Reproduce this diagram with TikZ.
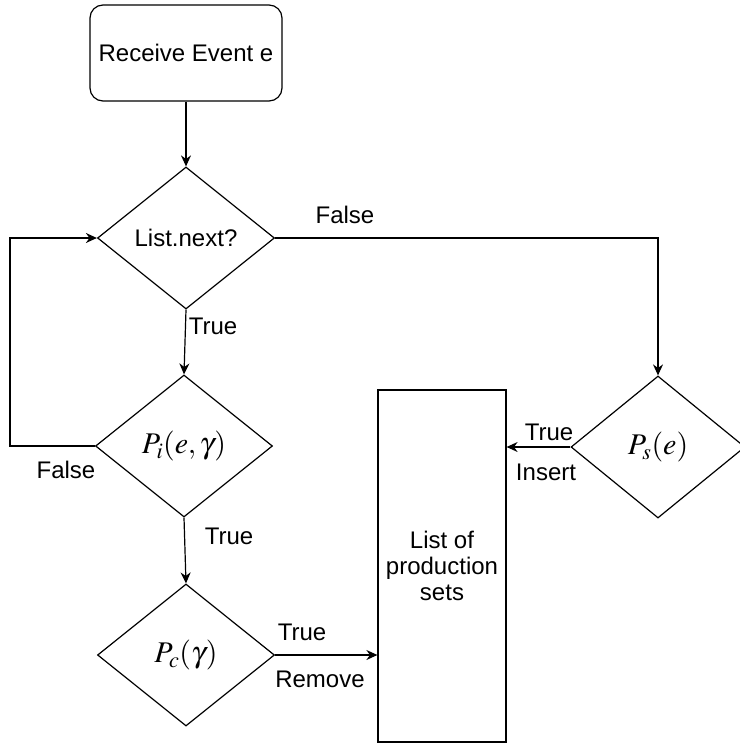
\documentclass[tikz,border=0pt]{standalone}
\usepackage{mathptmx}
\usepackage{fontspec}
\setmainfont{Liberation Sans}
\usetikzlibrary{shapes.geometric,arrows.meta}
\begin{document}
\begin{tikzpicture}[x=1pt,y=-1pt,
  font=\fontsize{24}{28}\selectfont,
  line width=1.2pt,
  flow/.style={-{Stealth[length=11pt,width=10pt]}},
  startbox/.style={draw, rounded corners=13pt, minimum width=192pt, minimum height=96pt, inner sep=0pt},
  decision/.style={draw, diamond, aspect=1.25, minimum width=177pt, minimum height=142pt, inner sep=0pt},
  mathtext/.style={font=\fontsize{30}{34}\selectfont},
  store/.style={draw, minimum width=128pt, minimum height=352pt, inner sep=0pt, align=center},
  lbl/.style={inner sep=0pt}]
  \useasboundingbox (0,0) rectangle (739,744);

  % blocks
  \node[startbox] (recv) at (186,53) {Receive Event e};
  \node[decision] (ln) at (186,238) {List.next?};
  \node[decision, mathtext] (pi) at (184,446) {$P_i(e,\gamma)$};
  \node[decision, mathtext] (pc) at (186,655) {$P_c(\gamma)$};
  \node[decision, mathtext, minimum width=174pt] (ps) at (658,447) {$P_s(e)$};
  \node[store] (list) at (442,566) {List of\\[-2pt]production\\[-2pt]sets};

  % connectors
  \coordinate (loop) at (10,446);
  \draw[flow] (recv.south) -- (ln.north);
  \draw[flow] (ln.south) -- (pi.north);
  \draw[flow] (pi.south) -- (pc.north);
  \draw[flow] (pi.west) -- (pi.west -| loop) -- (ln.west -| loop) -- (ln.west);
  \draw[flow] (ln.east) -| (ps.north);
  \draw[flow] (ps.west) -- (list.east |- ps.west);
  \draw[flow] (pc.east) -- (list.west |- pc.east);

  % edge labels
  \node[lbl] (lfalse1) at (345,215) {False};
  \node[lbl] (ltrue1) at (213,326) {True};
  \node[lbl] (lfalse2) at (66,470) {False};
  \node[lbl] (ltrue2) at (229,536) {True};
  \node[lbl] (ltrue3) at (302,632) {True};
  \node[lbl] (lremove) at (320,679) {Remove};
  \node[lbl] (ltrue4) at (549,432) {True};
  \node[lbl] (linsert) at (546,472) {Insert};
\end{tikzpicture}
\end{document}
